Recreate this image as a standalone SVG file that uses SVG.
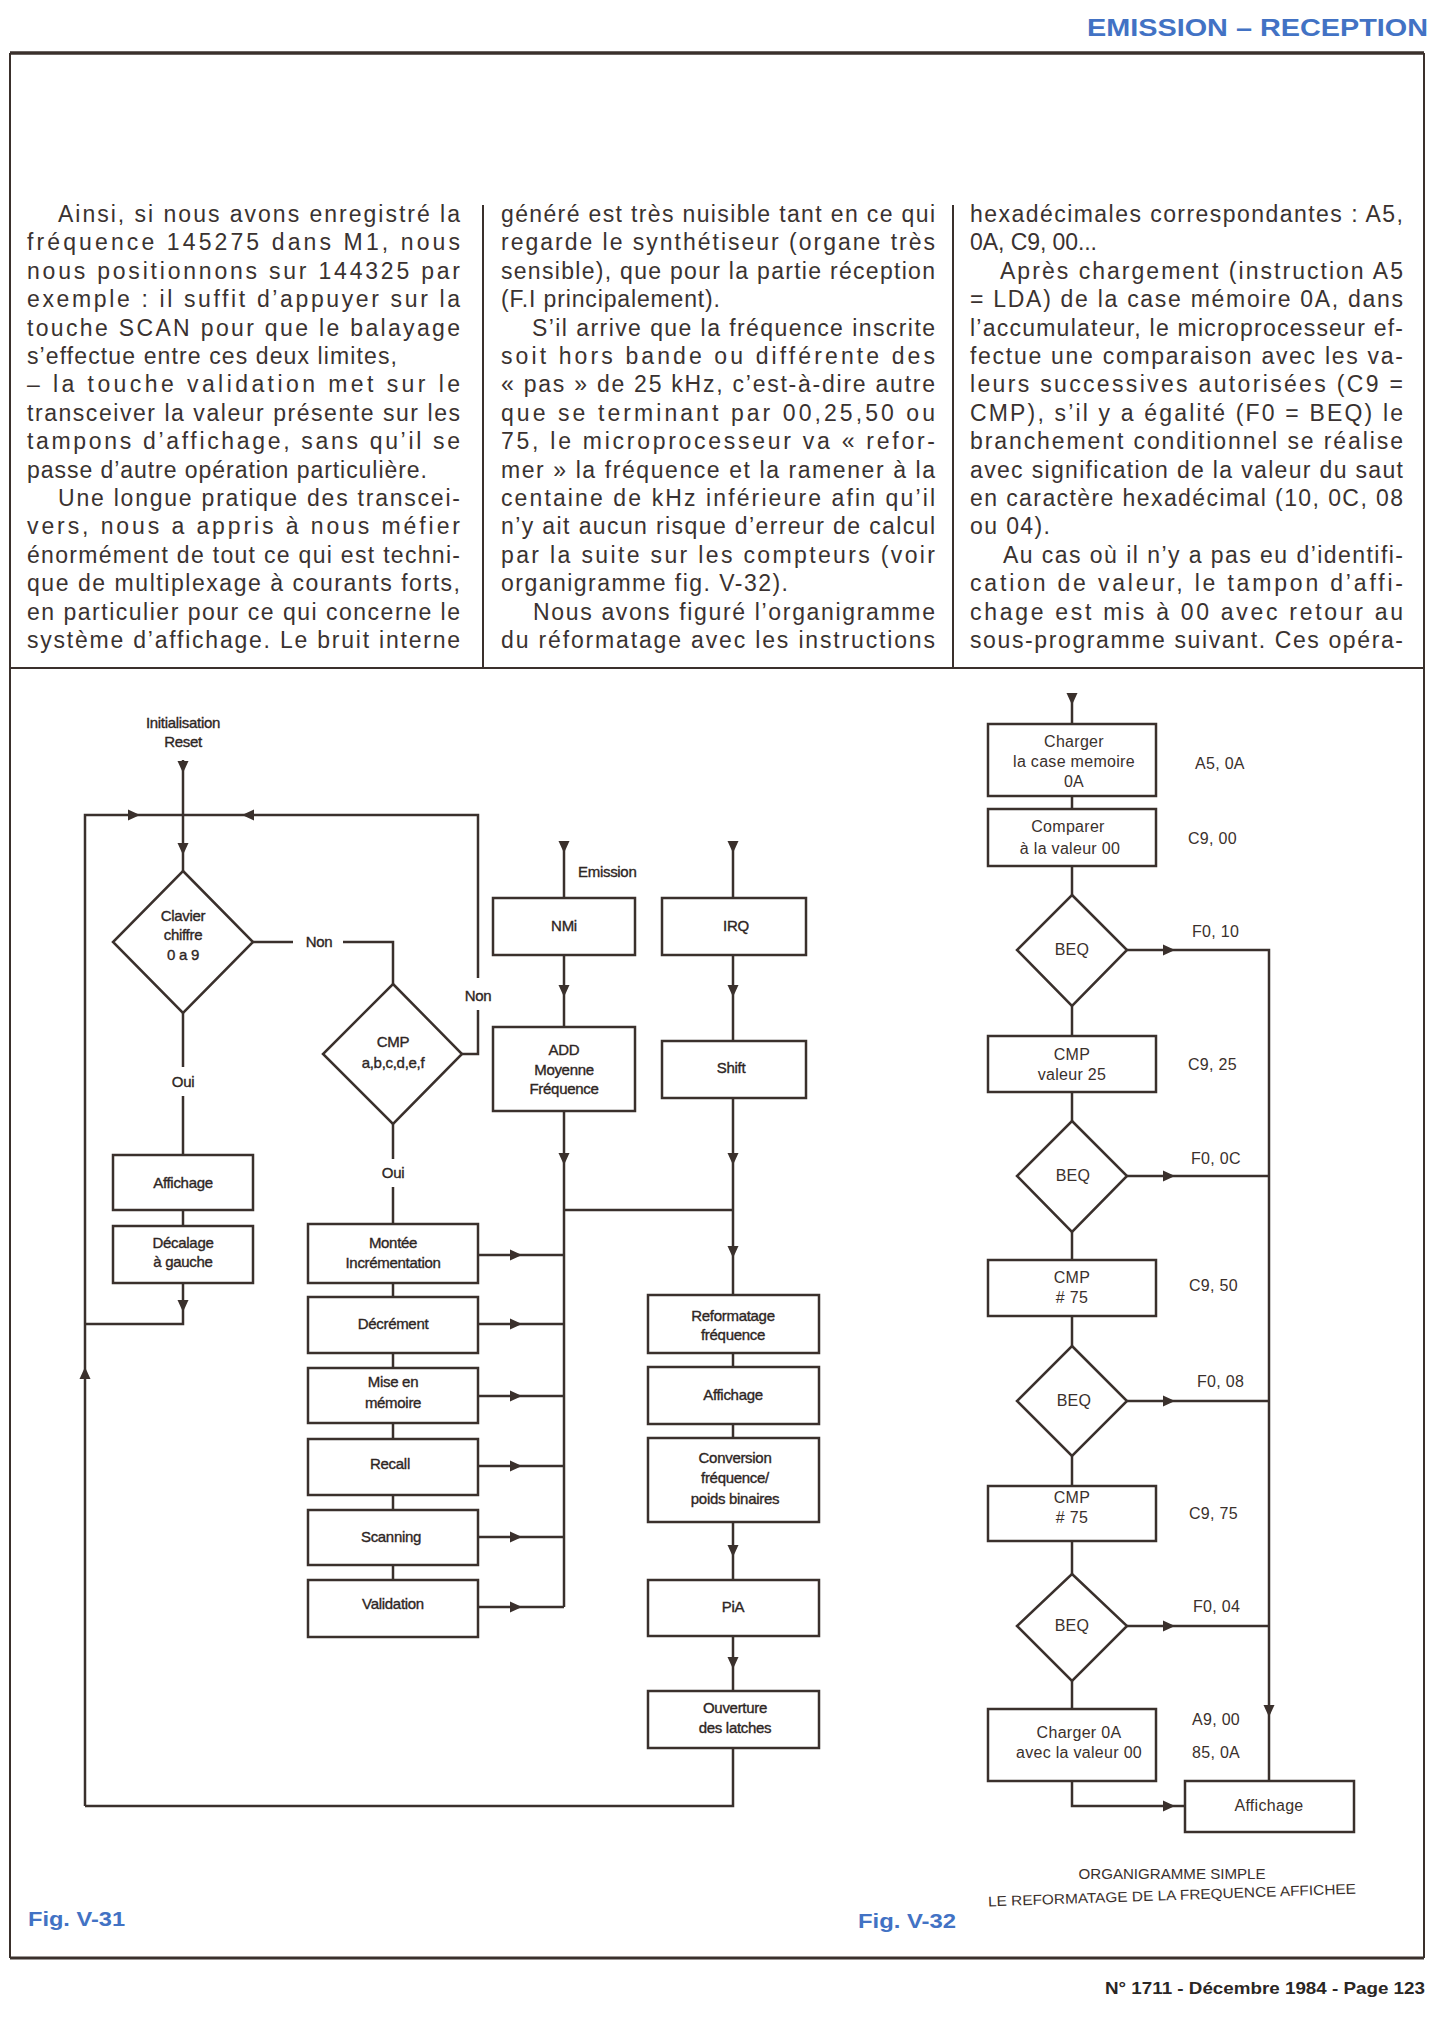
<svg xmlns="http://www.w3.org/2000/svg" width="1456" height="2032" viewBox="0 0 1456 2032">
<style>
.bt{font-family:"Liberation Sans",Arial,sans-serif;font-size:23px;fill:#3a3230}
.ln{stroke:#3a302c;stroke-width:2.5;fill:none}
.bx{fill:none;stroke:#3a302c;stroke-width:2.5}
.fr{stroke:#3a302c;fill:none}
.l1{font-family:"Liberation Sans",Arial,sans-serif;font-size:15px;fill:#2e2624;stroke:#2e2624;stroke-width:0.35;text-anchor:middle;letter-spacing:-0.3px}
.l2{font-family:"Liberation Sans",Arial,sans-serif;font-size:16px;fill:#3a302c;text-anchor:middle;letter-spacing:0.3px}
.lv{font-family:"Liberation Sans",Arial,sans-serif;font-size:16px;fill:#3a302c;letter-spacing:0.3px}
.blue{font-family:"Liberation Sans",Arial,sans-serif;font-weight:bold;fill:#4272c4}
.ar{fill:#3a302c}
</style>
<defs>
<path id="aD" d="M-5.5,-12 L5.5,-12 L0,0 Z"/>
<path id="aR" d="M-12,-5.5 L-12,5.5 L0,0 Z"/>
<path id="aL" d="M12,-5.5 L12,5.5 L0,0 Z"/>
<path id="aU" d="M-5.5,12 L5.5,12 L0,0 Z"/>
</defs>
<rect width="1456" height="2032" fill="#ffffff"/>

<g id="page">
<text class="blue" x="1087" y="36" font-size="24" textLength="341" lengthAdjust="spacingAndGlyphs">EMISSION – RECEPTION</text>
<line class="fr" x1="10" y1="53" x2="1424" y2="53" stroke-width="3.5"/>
<line class="fr" x1="10" y1="53" x2="10" y2="1958" stroke-width="2"/>
<line class="fr" x1="1424" y1="53" x2="1424" y2="1958" stroke-width="2"/>
<line class="fr" x1="10" y1="1958" x2="1424" y2="1958" stroke-width="3"/>
<line class="fr" x1="10" y1="668" x2="1424" y2="668" stroke-width="2"/>
<line class="fr" x1="483" y1="205" x2="483" y2="668" stroke-width="2"/>
<line class="fr" x1="953" y1="205" x2="953" y2="668" stroke-width="2"/>
<text x="1105" y="1994" font-family="Liberation Sans, Arial, sans-serif" font-weight="bold" font-size="17" fill="#2a2624" textLength="320" lengthAdjust="spacingAndGlyphs">N° 1711 - Décembre 1984 - Page 123</text>
</g>

<g id="body-text" class="bt" lengthAdjust="spacing">
<text x="58" y="222" textLength="402">Ainsi, si nous avons enregistré la</text>
<text x="27" y="250.4" textLength="433">fréquence 145275 dans M1, nous</text>
<text x="27" y="278.8" textLength="433">nous positionnons sur 144325 par</text>
<text x="27" y="307.2" textLength="433">exemple : il suffit d’appuyer sur la</text>
<text x="27" y="335.6" textLength="433">touche SCAN pour que le balayage</text>
<text x="27" y="364" textLength="370">s’effectue entre ces deux limites,</text>
<text x="27" y="392.4" textLength="433">– la touche validation met sur le</text>
<text x="27" y="420.8" textLength="433">transceiver la valeur présente sur les</text>
<text x="27" y="449.2" textLength="433">tampons d’affichage, sans qu’il se</text>
<text x="27" y="477.6" textLength="400">passe d’autre opération particulière.</text>
<text x="58" y="506" textLength="402">Une longue pratique des transcei-</text>
<text x="27" y="534.4" textLength="433">vers, nous a appris à nous méfier</text>
<text x="27" y="562.8" textLength="433">énormément de tout ce qui est techni-</text>
<text x="27" y="591.2" textLength="433">que de multiplexage à courants forts,</text>
<text x="27" y="619.6" textLength="433">en particulier pour ce qui concerne le</text>
<text x="27" y="648" textLength="433">système d’affichage. Le bruit interne</text>

<text x="501" y="222" textLength="434">généré est très nuisible tant en ce qui</text>
<text x="501" y="250.4" textLength="434">regarde le synthétiseur (organe très</text>
<text x="501" y="278.8" textLength="434">sensible), que pour la partie réception</text>
<text x="501" y="307.2" textLength="219">(F.I principalement).</text>
<text x="532" y="335.6" textLength="403">S’il arrive que la fréquence inscrite</text>
<text x="501" y="364" textLength="434">soit hors bande ou différente des</text>
<text x="501" y="392.4" textLength="434">« pas » de 25 kHz, c’est-à-dire autre</text>
<text x="501" y="420.8" textLength="434">que se terminant par 00,25,50 ou</text>
<text x="501" y="449.2" textLength="434">75, le microprocesseur va « refor-</text>
<text x="501" y="477.6" textLength="434">mer » la fréquence et la ramener à la</text>
<text x="501" y="506" textLength="434">centaine de kHz inférieure afin qu’il</text>
<text x="501" y="534.4" textLength="434">n’y ait aucun risque d’erreur de calcul</text>
<text x="501" y="562.8" textLength="434">par la suite sur les compteurs (voir</text>
<text x="501" y="591.2" textLength="287">organigramme fig. V-32).</text>
<text x="533" y="619.6" textLength="402">Nous avons figuré l’organigramme</text>
<text x="501" y="648" textLength="434">du réformatage avec les instructions</text>

<text x="970" y="222" textLength="433">hexadécimales correspondantes : A5,</text>
<text x="970" y="250.4" textLength="127">0A, C9, 00...</text>
<text x="1000" y="278.8" textLength="403">Après chargement (instruction A5</text>
<text x="970" y="307.2" textLength="433">= LDA) de la case mémoire 0A, dans</text>
<text x="970" y="335.6" textLength="433">l’accumulateur, le microprocesseur ef-</text>
<text x="970" y="364" textLength="433">fectue une comparaison avec les va-</text>
<text x="970" y="392.4" textLength="433">leurs successives autorisées (C9 =</text>
<text x="970" y="420.8" textLength="433">CMP), s’il y a égalité (F0 = BEQ) le</text>
<text x="970" y="449.2" textLength="433">branchement conditionnel se réalise</text>
<text x="970" y="477.6" textLength="433">avec signification de la valeur du saut</text>
<text x="970" y="506" textLength="433">en caractère hexadécimal (10, 0C, 08</text>
<text x="970" y="534.4" textLength="80">ou 04).</text>
<text x="1003" y="562.8" textLength="400">Au cas où il n’y a pas eu d’identifi-</text>
<text x="970" y="591.2" textLength="433">cation de valeur, le tampon d’affi-</text>
<text x="970" y="619.6" textLength="433">chage est mis à 00 avec retour au</text>
<text x="970" y="648" textLength="433">sous-programme suivant. Ces opéra-</text>
</g>

<!-- Fig V-31 connectors -->
<g id="connectors-v31">
<path class="ln" d="M183,760 V871"/>
<path class="ln" d="M85,1806 V815 H478 V978 M478,1010 V1054 H462"/>
<path class="ln" d="M253,942 H293 M343,942 H393 V984"/>
<path class="ln" d="M183,1013 V1067 M183,1096 V1155"/>
<path class="ln" d="M183,1210 V1226"/>
<path class="ln" d="M183,1283 V1324 H85"/>
<path class="ln" d="M393,1124 V1159 M393,1187 V1224"/>
<path class="ln" d="M393,1283 V1297 M393,1353 V1368 M393,1423 V1439 M393,1495 V1510 M393,1565 V1580"/>
<path class="ln" d="M478,1255 H564 M478,1324 H564 M478,1396 H564 M478,1466 H564 M478,1537 H564 M478,1607 H564"/>
<path class="ln" d="M564,842 V898 M564,955 V1027 M564,1111 V1607 M564,1210 H733"/>
<path class="ln" d="M733,842 V898 M733,955 V1041 M733,1098 V1295 M733,1353 V1367 M733,1424 V1438 M733,1522 V1580 M733,1636 V1691 M733,1748 V1806 H85"/>
<g class="ar">
<use href="#aD" x="183" y="773"/>
<use href="#aD" x="183" y="855"/>
<use href="#aR" x="140" y="815"/>
<use href="#aL" x="242" y="815"/>
<use href="#aU" x="85" y="1367"/>
<use href="#aD" x="183" y="1312"/>
<use href="#aR" x="522" y="1255"/>
<use href="#aR" x="522" y="1324"/>
<use href="#aR" x="522" y="1396"/>
<use href="#aR" x="522" y="1466"/>
<use href="#aR" x="522" y="1537"/>
<use href="#aR" x="522" y="1607"/>
<use href="#aD" x="564" y="853"/>
<use href="#aD" x="564" y="997"/>
<use href="#aD" x="564" y="1165"/>
<use href="#aD" x="733" y="853"/>
<use href="#aD" x="733" y="997"/>
<use href="#aD" x="733" y="1165"/>
<use href="#aD" x="733" y="1258"/>
<use href="#aD" x="733" y="1557"/>
<use href="#aD" x="733" y="1669"/>
</g>
<text class="l1" x="319" y="947">Non</text>
<text class="l1" x="478" y="1001">Non</text>
<text class="l1" x="183" y="1087">Oui</text>
<text class="l1" x="393" y="1178">Oui</text>
<text class="l1" x="578" y="877" style="text-anchor:start">Emission</text>
</g>

<!-- Fig V-31 nodes -->
<g id="n-init"><text class="l1" x="183" y="728">Initialisation</text><text class="l1" x="183" y="747">Reset</text></g>
<g id="n-clavier"><polygon class="bx" points="183,871 253,942 183,1013 113,942"/><text class="l1" x="183" y="921">Clavier</text><text class="l1" x="183" y="940">chiffre</text><text class="l1" x="183" y="960">0 a 9</text></g>
<g id="n-cmp"><polygon class="bx" points="393,984 462,1054 393,1124 323,1054"/><text class="l1" x="393" y="1047">CMP</text><text class="l1" x="393" y="1068">a,b,c,d,e,f</text></g>
<g id="n-affichage1"><rect class="bx" x="113" y="1155" width="140" height="55"/><text class="l1" x="183" y="1188">Affichage</text></g>
<g id="n-decalage"><rect class="bx" x="113" y="1226" width="140" height="57"/><text class="l1" x="183" y="1248">Décalage</text><text class="l1" x="183" y="1267">à gauche</text></g>
<g id="n-montee"><rect class="bx" x="308" y="1224" width="170" height="59"/><text class="l1" x="393" y="1248">Montée</text><text class="l1" x="393" y="1268">Incrémentation</text></g>
<g id="n-decrement"><rect class="bx" x="308" y="1297" width="170" height="56"/><text class="l1" x="393" y="1329">Décrément</text></g>
<g id="n-memoire"><rect class="bx" x="308" y="1368" width="170" height="55"/><text class="l1" x="393" y="1387">Mise en</text><text class="l1" x="393" y="1408">mémoire</text></g>
<g id="n-recall"><rect class="bx" x="308" y="1439" width="170" height="56"/><text class="l1" x="390" y="1469">Recall</text></g>
<g id="n-scanning"><rect class="bx" x="308" y="1510" width="170" height="55"/><text class="l1" x="391" y="1542">Scanning</text></g>
<g id="n-validation"><rect class="bx" x="308" y="1580" width="170" height="57"/><text class="l1" x="393" y="1609">Validation</text></g>
<g id="n-nmi"><rect class="bx" x="493" y="898" width="142" height="57"/><text class="l1" x="564" y="931">NMi</text></g>
<g id="n-add"><rect class="bx" x="493" y="1027" width="142" height="84"/><text class="l1" x="564" y="1055">ADD</text><text class="l1" x="564" y="1075">Moyenne</text><text class="l1" x="564" y="1094">Fréquence</text></g>
<g id="n-irq"><rect class="bx" x="662" y="898" width="144" height="57"/><text class="l1" x="736" y="931">IRQ</text></g>
<g id="n-shift"><rect class="bx" x="662" y="1041" width="144" height="57"/><text class="l1" x="731" y="1073">Shift</text></g>
<g id="n-reformatage"><rect class="bx" x="648" y="1295" width="171" height="58"/><text class="l1" x="733" y="1321">Reformatage</text><text class="l1" x="733" y="1340">fréquence</text></g>
<g id="n-affichage2"><rect class="bx" x="648" y="1367" width="171" height="57"/><text class="l1" x="733" y="1400">Affichage</text></g>
<g id="n-conversion"><rect class="bx" x="648" y="1438" width="171" height="84"/><text class="l1" x="735" y="1463">Conversion</text><text class="l1" x="735" y="1483">fréquence/</text><text class="l1" x="735" y="1504">poids binaires</text></g>
<g id="n-pia"><rect class="bx" x="648" y="1580" width="171" height="56"/><text class="l1" x="733" y="1612">PiA</text></g>
<g id="n-ouverture"><rect class="bx" x="648" y="1691" width="171" height="57"/><text class="l1" x="735" y="1713">Ouverture</text><text class="l1" x="735" y="1733">des latches</text></g>
<text class="blue" x="28" y="1926" font-size="20" textLength="97" lengthAdjust="spacingAndGlyphs">Fig. V-31</text>

<!-- Fig V-32 connectors -->
<g id="connectors-v32">
<path class="ln" d="M1072,693 V724 M1072,796 V809 M1072,866 V895 M1072,1006 V1036 M1072,1092 V1121 M1072,1232 V1260 M1072,1316 V1346 M1072,1456 V1486 M1072,1541 V1574 M1072,1681 V1709"/>
<path class="ln" d="M1127,950 H1269 V1781 M1127,1176 H1269 M1127,1401 H1269 M1127,1626 H1269"/>
<path class="ln" d="M1072,1781 V1806 H1185"/>
<g class="ar">
<use href="#aD" x="1072" y="705"/>
<use href="#aR" x="1175" y="950"/>
<use href="#aR" x="1175" y="1176"/>
<use href="#aR" x="1175" y="1401"/>
<use href="#aR" x="1175" y="1626"/>
<use href="#aD" x="1269" y="1717"/>
<use href="#aR" x="1175" y="1806"/>
</g>
<text class="lv" x="1195" y="769">A5, 0A</text>
<text class="lv" x="1188" y="844">C9, 00</text>
<text class="lv" x="1192" y="937">F0, 10</text>
<text class="lv" x="1188" y="1070">C9, 25</text>
<text class="lv" x="1191" y="1164">F0, 0C</text>
<text class="lv" x="1189" y="1291">C9, 50</text>
<text class="lv" x="1197" y="1387">F0, 08</text>
<text class="lv" x="1189" y="1519">C9, 75</text>
<text class="lv" x="1193" y="1612">F0, 04</text>
<text class="lv" x="1192" y="1725">A9, 00</text>
<text class="lv" x="1192" y="1758">85, 0A</text>
</g>

<!-- Fig V-32 nodes -->
<g id="m-charger"><rect class="bx" x="988" y="724" width="168" height="72"/><text class="l2" x="1074" y="747">Charger</text><text class="l2" x="1074" y="767">la case memoire</text><text class="l2" x="1074" y="787">0A</text></g>
<g id="m-comparer"><rect class="bx" x="988" y="809" width="168" height="57"/><text class="l2" x="1068" y="832">Comparer</text><text class="l2" x="1070" y="854">à la valeur 00</text></g>
<g id="m-beq1"><polygon class="bx" points="1072,895 1127,950 1072,1006 1017,950"/><text class="l2" x="1072" y="955">BEQ</text></g>
<g id="m-cmp25"><rect class="bx" x="988" y="1036" width="168" height="56"/><text class="l2" x="1072" y="1060">CMP</text><text class="l2" x="1072" y="1080">valeur 25</text></g>
<g id="m-beq2"><polygon class="bx" points="1072,1121 1127,1176 1072,1232 1017,1176"/><text class="l2" x="1073" y="1181">BEQ</text></g>
<g id="m-cmp75a"><rect class="bx" x="988" y="1260" width="168" height="56"/><text class="l2" x="1072" y="1283">CMP</text><text class="l2" x="1072" y="1303"># 75</text></g>
<g id="m-beq3"><polygon class="bx" points="1072,1346 1127,1401 1072,1456 1017,1401"/><text class="l2" x="1074" y="1406">BEQ</text></g>
<g id="m-cmp75b"><rect class="bx" x="988" y="1486" width="168" height="55"/><text class="l2" x="1072" y="1503">CMP</text><text class="l2" x="1072" y="1523"># 75</text></g>
<g id="m-beq4"><polygon class="bx" points="1072,1574 1127,1626 1072,1681 1017,1626"/><text class="l2" x="1072" y="1631">BEQ</text></g>
<g id="m-charger0a"><rect class="bx" x="988" y="1709" width="168" height="72"/><text class="l2" x="1079" y="1738">Charger 0A</text><text class="l2" x="1079" y="1758">avec la valeur 00</text></g>
<g id="m-affichage"><rect class="bx" x="1185" y="1781" width="169" height="51"/><text class="l2" x="1269" y="1811">Affichage</text></g>

<g id="captions">
<text x="1172" y="1879" font-family="Liberation Sans, Arial, sans-serif" font-size="14" fill="#3a302c" text-anchor="middle" textLength="187" lengthAdjust="spacingAndGlyphs">ORGANIGRAMME SIMPLE</text>
<text x="1172" y="1900" font-family="Liberation Sans, Arial, sans-serif" font-size="14" fill="#3a302c" text-anchor="middle" textLength="368" lengthAdjust="spacingAndGlyphs" transform="rotate(-2 1172 1896)">LE REFORMATAGE DE LA FREQUENCE AFFICHEE</text>
<text class="blue" x="858" y="1928" font-size="20" textLength="98" lengthAdjust="spacingAndGlyphs">Fig. V-32</text>
</g>
</svg>
